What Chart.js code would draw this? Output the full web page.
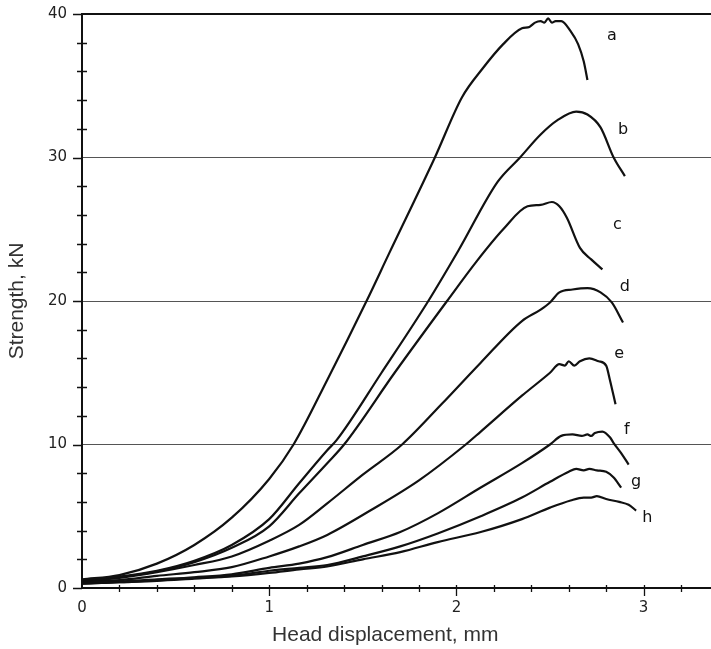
<!DOCTYPE html>
<html>
<head>
<meta charset="utf-8">
<script src="https://cdn.jsdelivr.net/npm/chart.js@4/dist/chart.umd.min.js"></script>
<style>
  html, body { margin: 0; padding: 0; background: #fff; }
  #wrap { width: 711px; height: 649px; }
</style>
</head>
<body>
<div id="wrap"><canvas id="chart" width="711" height="649"></canvas></div>
<script>
// --- datos: [desplazamiento mm, fuerza kN] ---
const curveA = [[0,0.6],[0.2,0.9],[0.4,1.7],[0.6,3.0],[0.8,4.9],[1.0,7.6],[1.13,10],[1.31,14.5],[1.52,20],[1.64,23.3],[1.885,30],[2.03,34.2],[2.14,36.2],[2.25,37.9],[2.35,39.0],[2.39,39.1],[2.42,39.4],[2.45,39.5],[2.47,39.4],[2.49,39.7],[2.51,39.4],[2.53,39.5],[2.56,39.5],[2.61,38.8],[2.65,37.9],[2.68,36.7],[2.70,35.4]];
const curveB = [[0,0.55],[0.2,0.8],[0.4,1.2],[0.6,1.9],[0.8,3.0],[1.0,4.8],[1.16,7.3],[1.31,9.6],[1.36,10.3],[1.6,15],[1.85,20],[2.01,23.5],[2.22,28.3],[2.34,30],[2.45,31.6],[2.54,32.6],[2.64,33.2],[2.70,33.0],[2.77,32.1],[2.84,30],[2.90,28.7]];
const curveC = [[0,0.5],[0.2,0.75],[0.4,1.15],[0.6,1.8],[0.8,2.8],[1.0,4.3],[1.16,6.6],[1.31,8.7],[1.40,10],[1.67,15],[1.95,20],[2.11,22.8],[2.25,25],[2.38,26.6],[2.45,26.7],[2.51,26.9],[2.55,26.6],[2.59,25.8],[2.66,23.7],[2.72,22.9],[2.78,22.2]];
const curveD = [[0,0.5],[0.2,0.7],[0.4,1.1],[0.6,1.6],[0.8,2.2],[1.0,3.3],[1.16,4.4],[1.31,5.9],[1.5,7.9],[1.71,10],[1.92,12.8],[2.13,15.7],[2.35,18.6],[2.45,19.4],[2.50,19.9],[2.55,20.6],[2.62,20.8],[2.70,20.9],[2.77,20.6],[2.83,19.9],[2.89,18.5]];
const curveE = [[0,0.45],[0.2,0.55],[0.4,0.85],[0.6,1.1],[0.8,1.45],[1.0,2.2],[1.16,2.9],[1.31,3.7],[1.54,5.4],[1.8,7.5],[2.05,10],[2.13,10.9],[2.35,13.4],[2.5,15.0],[2.55,15.6],[2.58,15.5],[2.60,15.8],[2.63,15.5],[2.66,15.8],[2.71,16.0],[2.76,15.8],[2.80,15.5],[2.82,14.5],[2.85,12.8]];
const curveF = [[0,0.35],[0.2,0.45],[0.4,0.6],[0.6,0.75],[0.8,0.95],[1.0,1.4],[1.16,1.7],[1.31,2.15],[1.5,3.0],[1.7,3.9],[1.9,5.2],[2.13,7.0],[2.35,8.7],[2.5,10],[2.56,10.6],[2.62,10.7],[2.67,10.6],[2.70,10.7],[2.72,10.6],[2.74,10.8],[2.78,10.9],[2.82,10.5],[2.84,10.1],[2.88,9.4],[2.92,8.6]];
const curveG = [[0,0.3],[0.2,0.4],[0.4,0.55],[0.6,0.7],[0.8,0.85],[1.0,1.2],[1.16,1.4],[1.31,1.6],[1.5,2.2],[1.7,2.9],[1.9,3.8],[2.13,5.0],[2.35,6.3],[2.5,7.4],[2.6,8.1],[2.64,8.3],[2.68,8.2],[2.71,8.3],[2.75,8.2],[2.80,8.1],[2.84,7.7],[2.88,7.0]];
const curveH = [[0,0.3],[0.2,0.4],[0.4,0.5],[0.6,0.65],[0.8,0.8],[1.0,1.05],[1.16,1.3],[1.31,1.5],[1.5,2.0],[1.7,2.5],[1.9,3.2],[2.13,3.9],[2.35,4.8],[2.5,5.6],[2.61,6.1],[2.68,6.3],[2.72,6.3],[2.75,6.4],[2.80,6.2],[2.87,6.0],[2.92,5.8],[2.96,5.4]];

const curveNames = ['a', 'b', 'c', 'd', 'e', 'f', 'g', 'h'];
const curves = [curveA, curveB, curveC, curveD, curveE, curveF, curveG, curveH];
// donde va cada letra (en unidades de datos)
const letterAt = [[2.83,38.5],[2.89,31.9],[2.86,25.3],[2.90,21.0],[2.87,16.3],[2.91,11.0],[2.96,7.4],[3.02,4.9]];

const xTicks = [0, 1, 2, 3];
const yTicks = [0, 10, 20, 30, 40];
const xMinorStep = 0.2, yMinorStep = 2;
const xMax = 3.36, yMax = 40;

// --- marcas de los ejes, letras y título del eje x ---
const decoPlugin = {
    id: 'deco',
    afterDraw(chart) {
        const ctx = chart.ctx;
        const xs = chart.scales.x, ys = chart.scales.y;
        const left = chart.chartArea.left, bottom = chart.chartArea.bottom;
        ctx.save();
        ctx.strokeStyle = '#111';
        ctx.lineWidth = 1.3;
        ctx.beginPath();
        // y: mayores hacia fuera, menores cruzando el eje
        for (let v = 0; v <= yMax + 0.001; v += yMinorStep) {
            const py = Math.round(ys.getPixelForValue(v)) + 0.5;
            if (Math.abs(v % 10) < 0.001) { ctx.moveTo(left - 9, py); ctx.lineTo(left, py); }
            else { ctx.moveTo(left - 5, py); ctx.lineTo(left + 5, py); }
        }
        // x
        for (let v = xMinorStep; v <= xMax; v += xMinorStep) {
            const px = Math.round(xs.getPixelForValue(v)) + 0.5;
            const major = Math.abs(v - Math.round(v)) < 0.001;
            ctx.moveTo(px, bottom - 3);
            ctx.lineTo(px, bottom + (major ? 8 : 4));
        }
        ctx.stroke();

        // letras de las curvas
        ctx.fillStyle = '#111';
        ctx.font = '16px "DejaVu Sans"';
        ctx.textAlign = 'center';
        ctx.textBaseline = 'middle';
        letterAt.forEach((p, i) => {
            ctx.fillText(curveNames[i], xs.getPixelForValue(p[0]), ys.getPixelForValue(p[1]));
        });

        // título eje x
        ctx.fillStyle = '#333';
        ctx.font = '21px "Liberation Sans"';
        ctx.textBaseline = 'alphabetic';
        ctx.fillText('Head displacement, mm', xs.getPixelForValue(1.62), 641);
        ctx.restore();
    }
};

new Chart(document.getElementById('chart'), {
    type: 'line',
    data: {
        datasets: curves.map((c, i) => ({
            label: curveNames[i],
            data: c.map(p => ({ x: p[0], y: p[1] })),
            borderColor: '#111',
            borderWidth: 2.2,
            pointRadius: 0,
            fill: false,
            cubicInterpolationMode: 'monotone'
        }))
    },
    options: {
        responsive: false,
        animation: false,
        devicePixelRatio: 1,
        layout: { padding: { top: 14, left: 0, right: 0, bottom: 0 } },
        plugins: { legend: { display: false }, tooltip: { enabled: false } },
        scales: {
            x: {
                type: 'linear',
                min: 0, max: xMax,
                afterBuildTicks: s => { s.ticks = xTicks.map(v => ({ value: v })); },
                afterFit: s => { s.height = 61; },
                grid: { display: false, drawTicks: false },
                border: { display: true, color: '#111', width: 2 },
                ticks: { color: '#222', font: { family: 'DejaVu Sans', size: 15 }, padding: 11, maxRotation: 0 }
            },
            y: {
                type: 'linear',
                min: 0, max: yMax,
                afterBuildTicks: s => { s.ticks = yTicks.map(v => ({ value: v })); },
                afterFit: s => { s.width = 82; },
                grid: {
                    drawTicks: true,
                    tickLength: 15,
                    tickColor: 'rgba(0,0,0,0)',
                    color: c => c.tick && c.tick.value === 40 ? '#111' : (c.tick && c.tick.value === 0 ? 'rgba(0,0,0,0)' : '#555'),
                    lineWidth: c => c.tick && c.tick.value === 40 ? 2 : 1
                },
                border: { display: true, color: '#111', width: 2 },
                ticks: { color: '#222', font: { family: 'DejaVu Sans', size: 15 }, padding: 0 },
                title: {
                    display: true,
                    text: 'Strength, kN',
                    color: '#333',
                    font: { family: 'Liberation Sans', size: 21 },
                    padding: { top: 5, bottom: 0 }
                }
            }
        }
    },
    plugins: [decoPlugin]
});
</script>
</body>
</html>
